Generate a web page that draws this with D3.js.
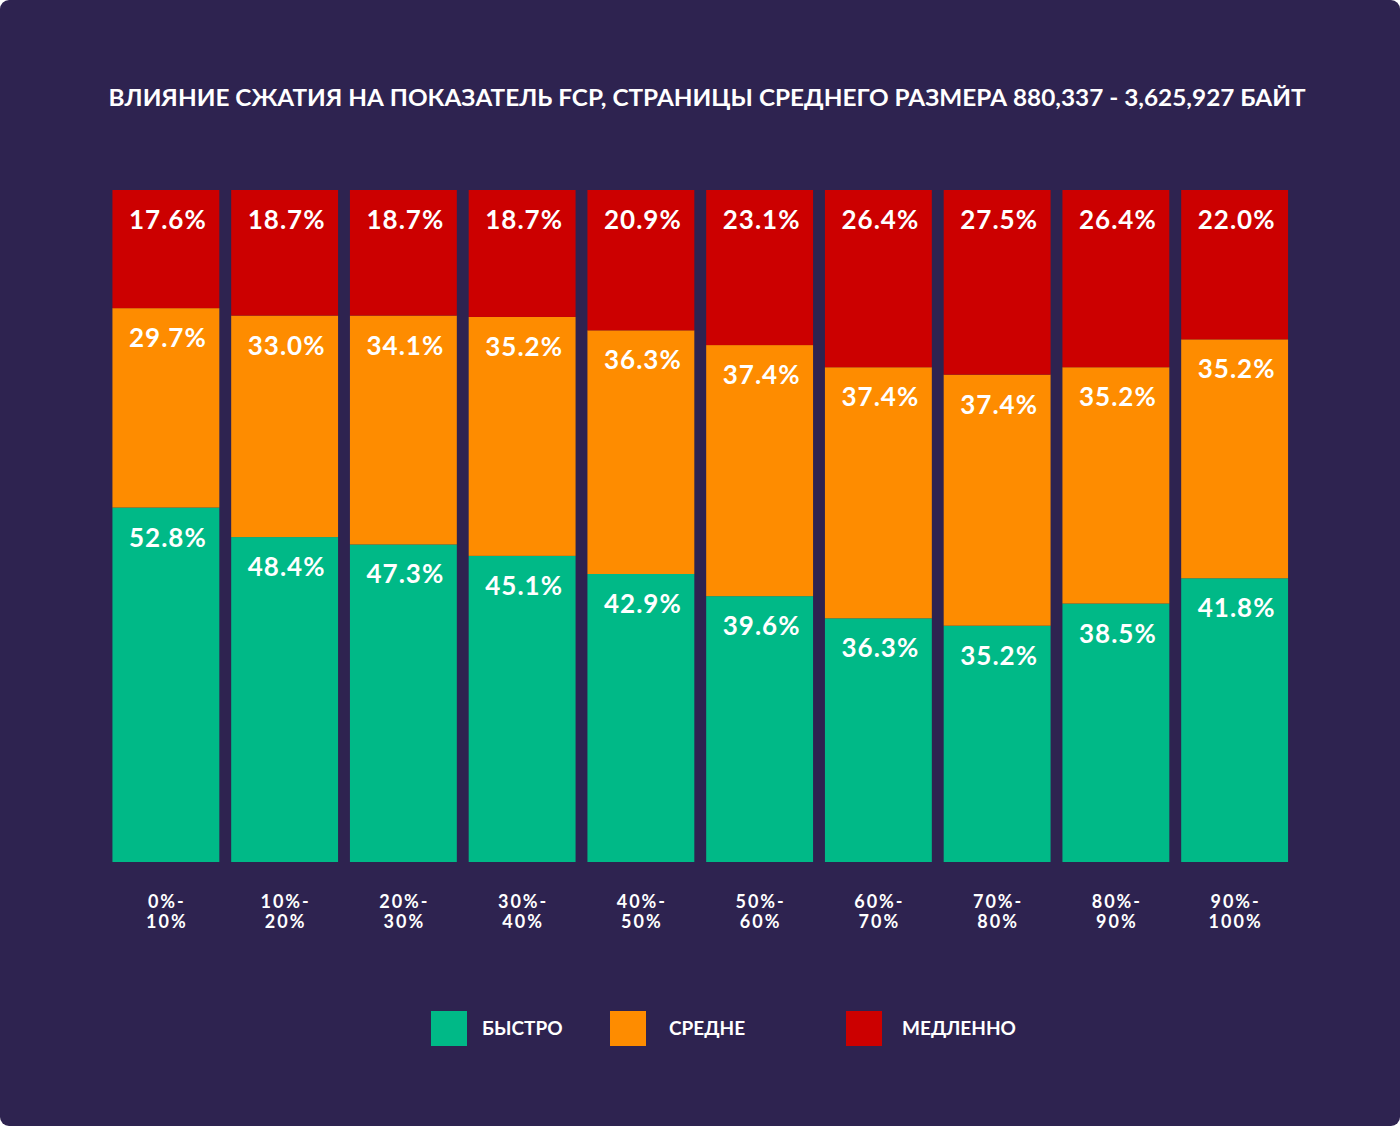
<!DOCTYPE html>
<html><head><meta charset="utf-8">
<script src="https://cdn.jsdelivr.net/npm/d3@7/dist/d3.min.js"></script>
<style>html,body{margin:0;padding:0;background:#fff;}svg{display:block;}</style>
</head><body>
<script>
const categories = ["0%-10%","10%-20%","20%-30%","30%-40%","40%-50%","50%-60%","60%-70%","70%-80%","80%-90%","90%-100%"];
const categoryLines = [["0%-","10%"],["10%-","20%"],["20%-","30%"],["30%-","40%"],["40%-","50%"],["50%-","60%"],["60%-","70%"],["70%-","80%"],["80%-","90%"],["90%-","100%"]];
const fast = [52.8, 48.4, 47.3, 45.1, 42.9, 39.6, 36.3, 35.2, 38.5, 41.8];
const medium = [29.7, 33.0, 34.1, 35.2, 36.3, 37.4, 37.4, 37.4, 35.2, 35.2];
const slow = [17.6, 18.7, 18.7, 18.7, 20.9, 23.1, 26.4, 27.5, 26.4, 22.0];
const seriesNames = ["БЫСТРО","СРЕДНЕ","МЕДЛЕННО"];
const seriesKeys = ["fast","medium","slow"];
const colors = ["#00b987","#fe8c00","#cc0000"];
const title = "ВЛИЯНИЕ СЖАТИЯ НА ПОКАЗАТЕЛЬ FCP, СТРАНИЦЫ СРЕДНЕГО РАЗМЕРА 880,337 - 3,625,927 БАЙТ";

const W = 1400, H = 1126;
const FONT = "Lato, 'Open Sans', sans-serif";
const svg = d3.select("body").append("svg").attr("width", W).attr("height", H);
svg.append("rect").attr("x",0).attr("y",0).attr("width",W).attr("height",H).attr("rx",9).attr("fill","#2e2350");

svg.append("text").attr("x",707).attr("y",106).attr("text-anchor","middle")
  .attr("fill","#fff").attr("font-family",FONT).attr("font-weight",700).attr("font-size",22.5)
  .attr("textLength",1197).attr("lengthAdjust","spacingAndGlyphs").text(title);

const table = categories.map((c,i)=>({cat:c, fast:fast[i], medium:medium[i], slow:slow[i]}));
const stack = d3.stack().keys(seriesKeys).offset(d3.stackOffsetExpand);
const stacked = stack(table);

const x = d3.scaleBand().domain(categories).range([106.5, 1294]).paddingInner(0.1).paddingOuter(0.05);
const y = d3.scaleLinear().domain([0,1]).range([862,190]);

const g = svg.append("g");
stacked.forEach((s,si)=>{
  const grp = g.append("g");
  grp.selectAll("rect").data(s).enter().append("rect")
    .attr("x",d=>x(d.data.cat)).attr("width",x.bandwidth())
    .attr("y",d=>y(d[1])).attr("height",d=>y(d[0])-y(d[1]))
    .attr("fill",colors[si]);
  grp.selectAll("text").data(s).enter().append("text")
    .attr("x",d=>x(d.data.cat)+x.bandwidth()/2+2)
    .attr("y",d=>y(d[1])+39)
    .attr("text-anchor","middle").attr("fill","#fff")
    .attr("font-family",FONT).attr("font-weight",700).attr("font-size",26).attr("letter-spacing",1)
    .text(d=>d.data[seriesKeys[si]].toFixed(1)+"%");
});

// x axis labels
const xAxis = d3.axisBottom(x).tickSize(0).tickFormat("");
const ax = svg.append("g").attr("transform","translate(0,862)").call(xAxis);
ax.select(".domain").remove();
ax.selectAll(".tick").each(function(d,i){
  const t = d3.select(this).append("text").attr("fill","#fff")
    .attr("font-family",FONT).attr("font-weight",700).attr("font-size",18).attr("letter-spacing",2)
    .attr("text-anchor","middle");
  categoryLines[i].forEach((ln,j)=>{
    t.append("tspan").attr("x",1).attr("y",46+j*20).text(ln);
  });
});

// legend
const legendX = [431, 610, 846];
const legendTX = [482, 669, 902];
seriesNames.forEach((n,i)=>{
  svg.append("rect").attr("x",legendX[i]).attr("y",1011).attr("width",36).attr("height",35).attr("fill",colors[i]);
  svg.append("text").attr("x",legendTX[i]).attr("y",1035).attr("fill","#fff")
    .attr("font-family",FONT).attr("font-weight",700).attr("font-size",19).text(n);
});
</script>
</body></html>
